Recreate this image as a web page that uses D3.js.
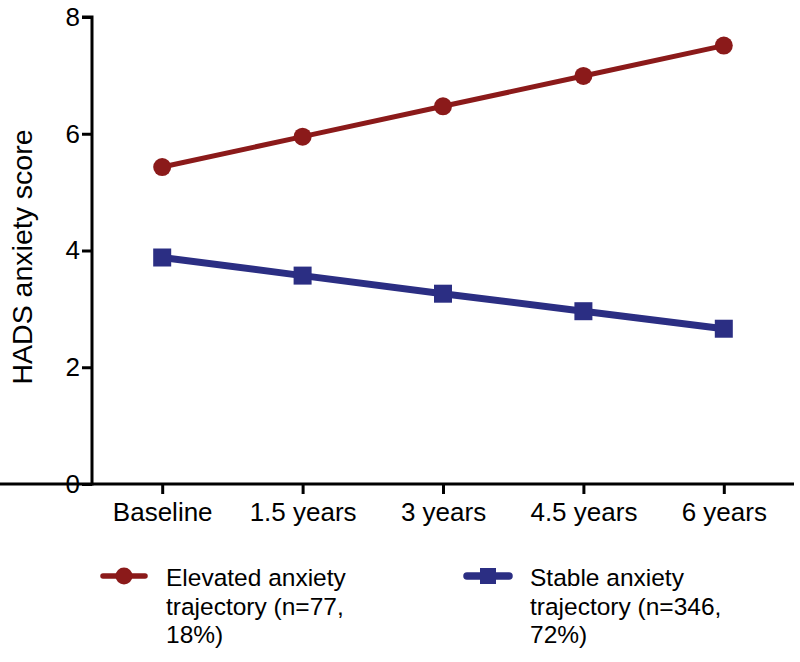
<html>
  <head>
    <script src="https://cdn.jsdelivr.net/npm/d3@7"></script>
    <style>
body { margin: 0; background: #fff; }
text { font-family: "Liberation Sans", Arial, sans-serif; fill: #000; }
    </style>
  </head>
  <body>
    <script>

var categories = ["Baseline", "1.5 years", "3 years", "4.5 years", "6 years"],
    elevated = [5.43, 5.95, 6.47, 6.99, 7.51],
    stable = [3.88, 3.57, 3.26, 2.96, 2.66],
    yTicks = [0, 2, 4, 6, 8],
    seriesNames = [["Elevated anxiety", "trajectory (n=77,", "18%)"],
                   ["Stable anxiety", "trajectory (n=346,", "72%)"]];

var w = 800, h = 662;
var red = "#8b1a1a", blue = "#2b2e83";

var svg = d3.select("body").append("svg")
    .attr("width", w)
    .attr("height", h);

var x = d3.scalePoint().domain(categories).range([92, 794]).padding(0.5);
var y = d3.scaleLinear().domain([0, 8]).range([484, 17]);

var yAxis = svg.append("g")
    .attr("transform", "translate(92,0)")
    .call(d3.axisLeft(y).tickValues(yTicks).tickSize(10).tickPadding(2));
var xAxis = svg.append("g")
    .attr("transform", "translate(0,484)")
    .call(d3.axisBottom(x).tickSize(10).tickPadding(9).tickSizeOuter(0));

[yAxis, xAxis].forEach(function(a) {
  a.select(".domain").attr("stroke", "#000").attr("stroke-width", 3);
  a.selectAll(".tick line").attr("stroke", "#000").attr("stroke-width", 3);
  a.selectAll(".tick text").style("font-size", "26px").attr("fill", "#000");
});
yAxis.select(".domain").attr("d", "M-10," + y(8) + "H0V" + (y(0) + 1.5));
xAxis.select(".domain").attr("d", "M0,0H" + x.range()[1]);

svg.append("text")
    .attr("transform", "translate(32,257) rotate(-90)")
    .attr("text-anchor", "middle")
    .style("font-size", "28.5px")
    .text("HADS anxiety score");

var line = d3.line()
    .x(function(d, i) { return x(categories[i]); })
    .y(function(d) { return y(d); });

svg.append("path")
    .attr("d", line(stable))
    .attr("fill", "none")
    .attr("stroke", blue)
    .attr("stroke-width", 7);
svg.selectAll("rect.pt")
    .data(stable)
  .enter().append("rect")
    .attr("class", "pt")
    .attr("x", function(d, i) { return x(categories[i]) - 9; })
    .attr("y", function(d) { return y(d) - 9; })
    .attr("width", 18)
    .attr("height", 18)
    .attr("fill", blue);

svg.append("path")
    .attr("d", line(elevated))
    .attr("fill", "none")
    .attr("stroke", red)
    .attr("stroke-width", 5);
svg.selectAll("circle.pt")
    .data(elevated)
  .enter().append("circle")
    .attr("class", "pt")
    .attr("cx", function(d, i) { return x(categories[i]); })
    .attr("cy", function(d) { return y(d); })
    .attr("r", 9)
    .attr("fill", red);

// legend
var lg = svg.selectAll("g.legend")
    .data(seriesNames)
  .enter().append("g")
    .attr("class", "legend")
    .attr("transform", function(d, i) { return "translate(" + (i ? 467 : 103) + ",576)"; });

lg.append("line")
    .attr("x1", 0).attr("x2", 42)
    .attr("stroke", function(d, i) { return i ? blue : red; })
    .attr("stroke-width", function(d, i) { return i ? 7.5 : 5.5; })
    .attr("stroke-linecap", "round");

lg.each(function(d, i) {
  var g = d3.select(this);
  if (i) g.append("rect").attr("x", 13).attr("y", -8).attr("width", 16).attr("height", 16).attr("fill", blue);
  else g.append("circle").attr("cx", 21).attr("r", 8.5).attr("fill", red);
});

lg.append("text")
    .attr("transform", "translate(63,10)")
    .style("font-size", "24.5px")
  .selectAll("tspan")
    .data(function(d) { return d; })
  .enter().append("tspan")
    .attr("x", 0)
    .attr("dy", function(d, i) { return i ? 28.5 : 0; })
    .text(function(d) { return d; });

    </script>
  </body>
</html>
